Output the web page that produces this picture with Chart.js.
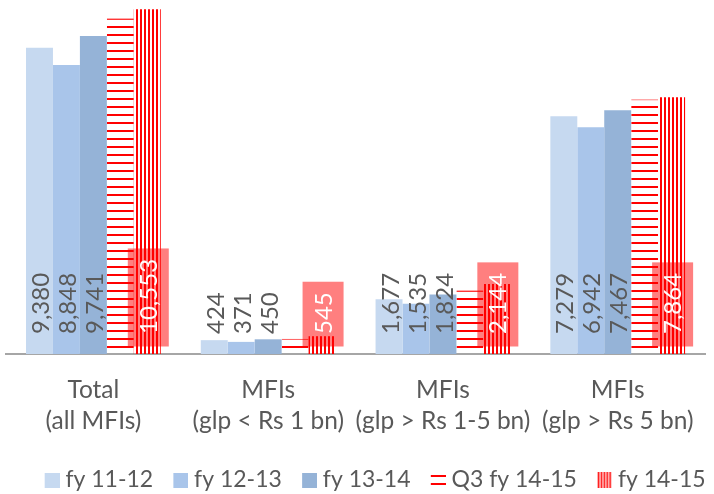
<!DOCTYPE html>
<html>
<head>
<meta charset="utf-8">
<script src="https://cdn.jsdelivr.net/npm/chart.js@4/dist/chart.umd.min.js"></script>
<style>
  html, body { margin: 0; padding: 0; background: #ffffff; }
  #wrap { width: 714px; height: 494px; position: relative; }
</style>
</head>
<body>
<div id="wrap"><canvas id="c"></canvas></div>
<script>
// Outstanding loan portfolio by MFI size class
const categories = [
  ["Total", "(all MFIs)"],
  ["MFIs", "(glp < Rs 1 bn)"],
  ["MFIs", "(glp > Rs 1-5 bn)"],
  ["MFIs", "(glp > Rs 5 bn)"]
];
const seriesNames = ["fy 11-12", "fy 12-13", "fy 13-14", "Q3 fy 14-15", "fy 14-15"];
const fy1112 = [9380, 424, 1677, 7279];
const fy1213 = [8848, 371, 1535, 6942];
const fy1314 = [9741, 450, 1824, 7467];
const q3fy1415 = [10280, 465, 1950, 7800];
const fy1415 = [10553, 545, 2144, 7864];
const yMin = 0;
const yMax = 10840;

const FONT = 'Lato, "Open Sans", sans-serif';
const TEXT = '#595959';
const RED = '#FF0000';
const BLUES = ['#C6D9F0', '#A9C5EA', '#95B3D7'];

const canvas = document.getElementById('c');
const mainCtx = canvas.getContext('2d');

function makeTile(w, h, paint) {
  const c = document.createElement('canvas');
  c.width = w; c.height = h;
  paint(c.getContext('2d'));
  return c;
}

// Fill patterns: horizontal stripes (Q3) and dense vertical stripes (full year)
const hTile = makeTile(8, 8, g => { g.fillStyle = RED; g.fillRect(0, 2, 8, 2); });
const vTile = makeTile(4, 4, g => { g.fillStyle = RED; g.fillRect(0, 0, 2, 4); });
const hPattern = mainCtx.createPattern(hTile, 'repeat');
const vPattern = mainCtx.createPattern(vTile, 'repeat');

// Legend swatches (a transparent strip on the left moves the visible mark toward its text)
const M = 8;
const markers = [
  ...BLUES.map(col => makeTile(15 + M, 15, g => { g.fillStyle = col; g.fillRect(M, 0, 15, 15); })),
  makeTile(15 + M, 16, g => { g.fillStyle = RED; g.fillRect(M, 3, 15, 2); g.fillRect(M, 11, 15, 2); }),
  makeTile(14 + M, 16, g => { g.fillStyle = RED; for (let i = 0; i < 5; i++) g.fillRect(M + i * 2.9, 0, 1.6, 16); })
];

// Rotated value labels at the base of each bar
const valueLabels = {
  id: 'valueLabels',
  afterDatasetsDraw(chart) {
    const g = chart.ctx;
    g.save();
    g.font = '24px ' + FONT;
    const capHalf = 8.6;
    [0, 1, 2, 4].forEach(di => {
      const meta = chart.getDatasetMeta(di);
      const values = chart.data.datasets[di].data;
      meta.data.forEach((bar, j) => {
        const { x, base } = bar.getProps(['x', 'base'], true);
        const text = values[j].toLocaleString('en-US');
        const w = g.measureText(text).width;
        const cx = x + 1;
        if (di === 4) {
          const h = w + 23;
          g.fillStyle = 'rgba(255,0,0,0.5)';
          g.fillRect(cx - 20.5, base - 7.5 - h, 41, h);
        }
        g.save();
        g.translate(cx, base - 20);
        g.rotate(-Math.PI / 2);
        g.fillStyle = di === 4 ? '#FFFFFF' : TEXT;
        g.textAlign = 'left';
        g.textBaseline = 'alphabetic';
        g.fillText(text, 0, capHalf);
        g.restore();
      });
    });
    g.restore();
  }
};

// Nudge the legend row to the right of the default centred position
const legendOffset = {
  id: 'legendOffset',
  afterLayout(chart) {
    const lg = chart.legend;
    if (lg) { lg.left += 14; lg.right += 14; }
  }
};

new Chart(canvas, {
  type: 'bar',
  data: {
    labels: categories,
    datasets: [
      { label: seriesNames[0], data: fy1112, backgroundColor: BLUES[0] },
      { label: seriesNames[1], data: fy1213, backgroundColor: BLUES[1] },
      { label: seriesNames[2], data: fy1314, backgroundColor: BLUES[2] },
      { label: seriesNames[3], data: q3fy1415, backgroundColor: hPattern,
        borderColor: 'rgba(255,0,0,0.6)', borderWidth: { top: 1, left: 0, right: 0, bottom: 0 }, borderSkipped: false },
      { label: seriesNames[4], data: fy1415, backgroundColor: vPattern }
    ]
  },
  options: {
    responsive: true,
    maintainAspectRatio: false,
    animation: false,
    layout: { padding: { left: 6, right: 0, top: 0, bottom: -7.5 } },
    datasets: { bar: { categoryPercentage: 0.771, barPercentage: 1 } },
    scales: {
      x: {
        grid: { display: false, drawTicks: false },
        border: { display: true, color: '#A6A6A6', width: 2 },
        ticks: {
          color: TEXT,
          font: { family: FONT, size: 24.5, lineHeight: 1.265 },
          padding: 20.5,
          maxRotation: 0,
          autoSkip: false
        },
        afterFit: s => { s.height = 96.5; }
      },
      y: { display: false, min: yMin, max: yMax }
    },
    plugins: {
      legend: {
        position: 'bottom',
        labels: {
          usePointStyle: true,
          boxWidth: 11.5,
          boxHeight: 16,
          padding: 18,
          color: TEXT,
          font: { family: FONT, size: 23 },
          generateLabels: chart => chart.data.datasets.map((ds, i) => ({
            text: ds.label,
            pointStyle: markers[i],
            datasetIndex: i,
            hidden: false,
            fontColor: TEXT,
            lineWidth: 0,
            strokeStyle: 'transparent',
            fillStyle: 'transparent'
          }))
        }
      },
      tooltip: { enabled: false }
    }
  },
  plugins: [valueLabels, legendOffset]
});
</script>
</body>
</html>
